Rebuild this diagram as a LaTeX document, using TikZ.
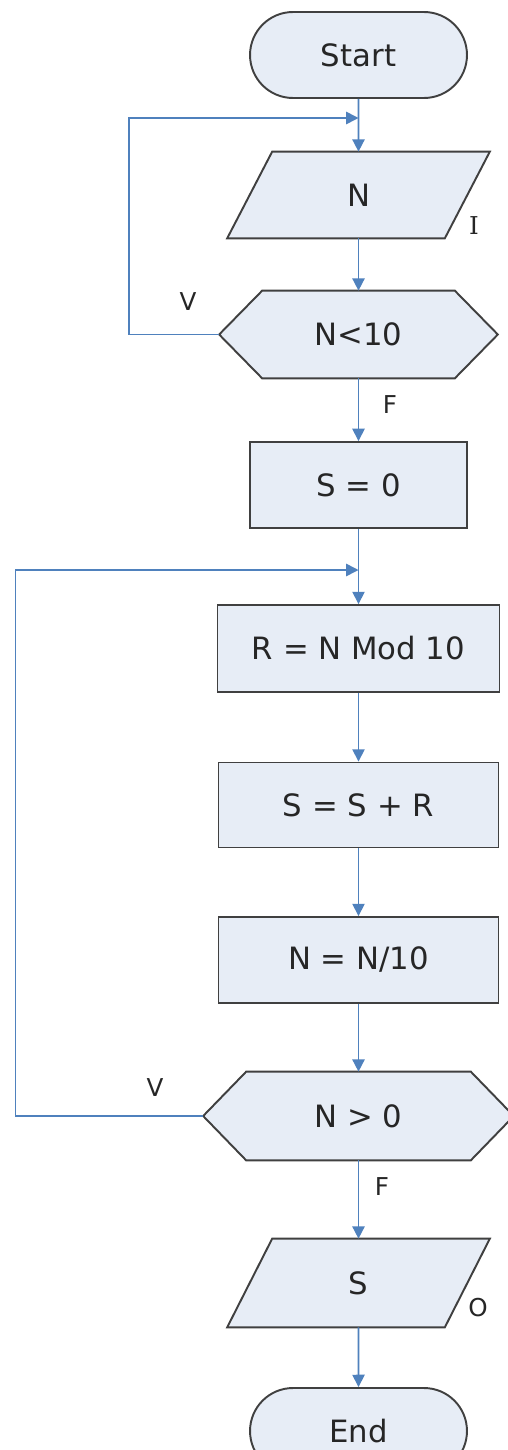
\documentclass[tikz,border=0pt]{standalone}
\usepackage{fontspec}
\setmainfont{DejaVu Sans}
\newfontfamily\serifI{DejaVu Serif}
\usetikzlibrary{shapes.misc,arrows.meta,calc,backgrounds}
\definecolor{fillc}{HTML}{E7EDF6}
\definecolor{edgec}{HTML}{404040}
\definecolor{arrc}{HTML}{4F81BD}
\definecolor{txtc}{HTML}{262626}
\begin{document}
\begin{tikzpicture}[x=0.02cm,y=-0.02cm,
  txt/.style={font=\fontsize{17.5}{20}\selectfont, text=txtc, inner sep=0pt},
  term/.style={txt, shape=rounded rectangle, draw=edgec, fill=fillc, line width=1.1pt, minimum width=4.34cm, minimum height=1.72cm},
  procbox/.style={txt, rectangle, draw=edgec, fill=fillc, line width=1.1pt, minimum height=1.72cm},
  frame/.style={txt, rectangle, minimum height=1.72cm},
  shapeline/.style={draw=edgec, fill=fillc, line width=1.1pt, line join=miter},
  flow/.style={draw=arrc, line width=0.9pt, -{Triangle[length=7pt,width=7pt]}},
  lbl/.style={font=\fontsize{14}{16}\selectfont, text=txtc, inner sep=0pt}]

\clip (0,0) rectangle (507,1450);

% nodes
\node[term] (start) at (358.5,55) {Start};
\node[frame, minimum width=5.24cm] (in) at (358.5,195) {N};
\node[frame, minimum width=5.56cm, minimum height=1.74cm] (c1) at (358.5,334.5) {N<10};
\node[procbox, minimum width=4.34cm] (s0) at (358.5,485) {S = 0};
\node[procbox, minimum width=5.64cm, minimum height=1.74cm] (r) at (358.5,648.5) {R = N Mod 10};
\node[procbox, minimum width=5.6cm, minimum height=1.7cm] (ssr) at (358.5,805) {S = S + R};
\node[procbox, minimum width=5.6cm] (nn) at (358.5,960) {N = N/10};
\node[frame, minimum width=6.2cm, minimum height=1.76cm] (c2) at (358.5,1116) {N > 0};
\node[frame, minimum width=5.24cm, minimum height=1.76cm] (out) at (358.5,1283) {S};
\node[term] (end) at (358.5,1431) {End};

% outlined shapes behind the texts
\begin{pgfonlayer}{background}
\fill[white] (0,0) rectangle (507,1450);
\path[shapeline] ($(in.north west)+(45,0)$) -- (in.north east) -- ($(in.south east)+(-45,0)$) -- (in.south west) -- cycle;
\path[shapeline] (c1.west) -- ($(c1.north west)+(43,0)$) -- ($(c1.north east)+(-43,0)$) -- (c1.east) -- ($(c1.south east)+(-43,0)$) -- ($(c1.south west)+(43,0)$) -- cycle;
\path[shapeline] (c2.west) -- ($(c2.north west)+(43,0)$) -- ($(c2.north east)+(-43,0)$) -- (c2.east) -- ($(c2.south east)+(-43,0)$) -- ($(c2.south west)+(43,0)$) -- cycle;
\path[shapeline] ($(out.north west)+(45,0)$) -- (out.north east) -- ($(out.south east)+(-45,0)$) -- (out.south west) -- cycle;
\end{pgfonlayer}

% labels
\node[lbl] (lv1) at (188,302) {V};
\node[lbl] (lf1) at (390,405) {F};
\node[lbl] (lv2) at (155,1088) {V};
\node[lbl] (lf2) at (382,1187) {F};
\node[lbl, font=\serifI\fontsize{14}{16}\selectfont] (li) at (474,226) {I};
\node[lbl] (lo) at (478,1308) {O};

% connectors
\coordinate (j1) at (358.5,118);
\coordinate (j2) at (358.5,570);
\draw[flow] (start) -- (in);
\draw[flow] (in) -- (c1);
\draw[flow] (c1) -- (s0);
\draw[flow] (s0) -- (r);
\draw[flow] (r) -- (ssr);
\draw[flow] (ssr) -- (nn);
\draw[flow] (nn) -- (c2);
\draw[flow] (c2) -- (out);
\draw[flow] (out) -- (end);
\draw[flow] (c1.west) -- ++(-90,0) |- (j1);
\draw[flow] (c2.west) -- ++(-187.5,0) |- (j2);
\end{tikzpicture}
\end{document}
